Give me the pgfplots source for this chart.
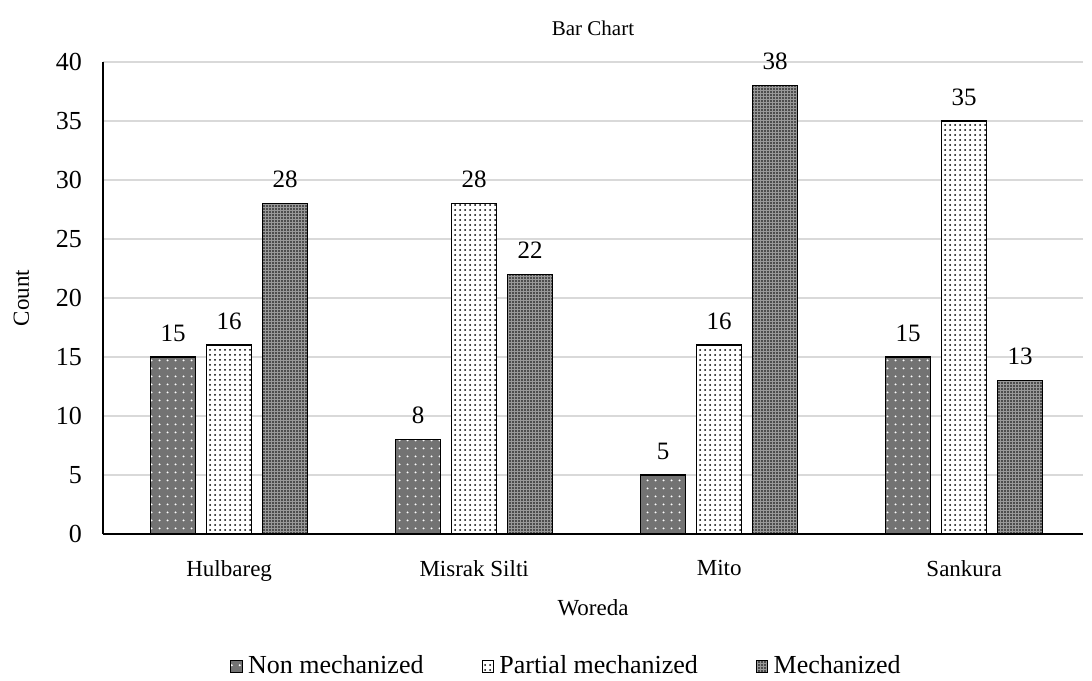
\documentclass[border=0pt]{standalone}
\usepackage{pgfplots}
\pgfplotsset{compat=1.18}
\usepackage{fontspec}
\setmainfont{Liberation Serif}
\usetikzlibrary{patterns,patterns.meta}
\begin{document}
\begin{tikzpicture}
\useasboundingbox (-51.5pt,-73pt) rectangle (494.5pt,267pt);
\begin{axis}[
  scale only axis,
  width=490pt, height=236pt,
  xmin=-0.515, xmax=3.485, ymin=0, ymax=40,
  ytick={0,5,...,40},
  xtick={0,1,2,3},
  xticklabels={Hulbareg,Misrak Silti,Mito,Sankura},
  /pgf/number format/assume math mode=true,
  ymajorgrids, grid style={gray!30, line width=0.9pt},
  axis x line*=bottom, axis y line*=left,
  axis line style={-, black, line width=0.7pt},
  major tick length=0pt,
  yticklabel style={font=\fontsize{13}{15}\selectfont, xshift=-7pt},
  xticklabel style={font=\fontsize{11.5}{13}\selectfont, yshift=-9.5pt},
  ylabel={Count}, xlabel={Woreda},
  ylabel style={font=\fontsize{11.5}{13}\selectfont, yshift=6.5pt},
  xlabel style={font=\fontsize{11.5}{13}\selectfont, yshift=-2.5pt},
  title={Bar Chart},
  title style={font=\fontsize{10.5}{12}\selectfont, yshift=3.5pt},
  ybar=0pt, bar width=22.5pt,
  nodes near coords,
  every node near coord/.append style={font=\fontsize{12.5}{14}\selectfont, yshift=4pt},
  legend style={draw=none, at={(0.474,-0.24)}, anchor=north, legend columns=-1,
     font=\fontsize{13}{15}\selectfont,
     /tikz/every odd column/.append style={column sep=1pt},
     /tikz/every even column/.append style={column sep=27pt}},
  legend image code/.code={\draw[#1, line width=0.3pt] (0pt,-2.8pt) rectangle (5.6pt,2.8pt);},
]
\addplot[draw=black, line width=0.8pt, fill=black!55,
   postaction={pattern={Dots[distance=4pt, radius=0.6pt]}, pattern color=white},
   bar shift=-28pt]
   coordinates {(0,15) (1,8) (2,5) (3,15)};
\addplot[draw=black, line width=0.8pt, fill=white,
   postaction={pattern={Dots[distance=2.5pt, radius=0.5pt]}, pattern color=black},
   bar shift=0pt]
   coordinates {(0,16) (1,28) (2,16) (3,35)};
\addplot[draw=black, line width=0.8pt, fill=black!40,
   postaction={pattern={Dots[distance=1.5pt, radius=0.45pt]}, pattern color=black},
   bar shift=28pt]
   coordinates {(0,28) (1,22) (2,38) (3,13)};
\legend{Non mechanized, Partial mechanized, Mechanized}
\end{axis}
\end{tikzpicture}
\end{document}
